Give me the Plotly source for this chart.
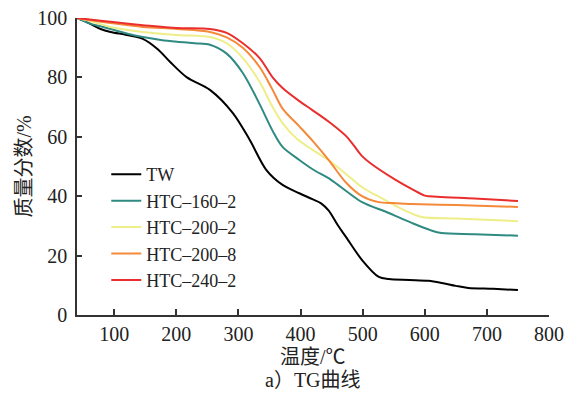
import plotly.graph_objects as go

# Temperature (°C) and mass fraction (%)
tw_x = [40, 60, 78, 94, 120, 146, 170, 190, 217, 254, 291, 318, 345, 371, 398, 419, 433, 445, 460, 473, 499, 526, 542, 575, 606, 627, 650, 670, 710, 750]
tw_y = [100, 98.2, 96.3, 95.3, 94.3, 93, 89.5, 85.2, 80, 75.8, 68, 59, 48.8, 43.8, 41, 39, 37.6, 35.2, 30.2, 26.3, 18.5, 12.8, 12.1, 11.8, 11.5, 10.8, 9.8, 9.1, 8.8, 8.4]

h160_x = [40, 60, 78, 94, 120, 146, 175, 201, 230, 254, 281, 307, 334, 355, 371, 398, 420, 449, 475, 499, 540, 579, 610, 627, 680, 750]
h160_y = [100, 98.2, 97.2, 96.3, 94.8, 93.6, 92.6, 92, 91.5, 91, 88, 81.5, 71, 62, 56.6, 52.2, 49, 45.5, 41.5, 38, 34.5, 31, 28.5, 27.6, 27.2, 26.7]

h2002_x = [40, 60, 94, 146, 201, 254, 281, 307, 334, 355, 371, 393, 420, 446, 473, 499, 520, 542, 570, 595, 650, 750]
h2002_y = [100, 99, 97, 95.3, 94.3, 93.6, 91.5, 86.5, 78.5, 70, 64.6, 59.5, 55.5, 52, 47.5, 43, 40.5, 38, 35, 33, 32.5, 31.6]

h2008_x = [40, 60, 94, 146, 201, 254, 281, 307, 334, 355, 371, 398, 419, 446, 473, 499, 526, 550, 579, 650, 750]
h2008_y = [100, 99.3, 98.3, 97, 96.3, 95.3, 93.5, 90, 83.5, 75.8, 69.5, 63.5, 58.7, 52, 44.6, 40, 38, 37.7, 37.4, 37, 36.4]

h240_x = [40, 60, 94, 146, 201, 254, 281, 307, 334, 355, 371, 398, 419, 446, 473, 486, 499, 512, 553, 580, 600, 620, 680, 750]
h240_y = [100, 99.5, 98.7, 97.6, 96.6, 96.3, 95, 91.5, 86.5, 80, 76.4, 72, 69, 65, 60.3, 57, 53.5, 51.2, 45.5, 42.3, 40.2, 39.8, 39.2, 38.4]

names = ["TW", "HTC\u2013160\u20132", "HTC\u2013200\u20132", "HTC\u2013200\u20138", "HTC\u2013240\u20132"]
colors = ["#000000", "#2f8a82", "#eeee88", "#f5893a", "#ea2e2e"]
series = [(tw_x, tw_y), (h160_x, h160_y), (h2002_x, h2002_y), (h2008_x, h2008_y), (h240_x, h240_y)]

x_ticks = [100, 200, 300, 400, 500, 600, 700, 800]
y_ticks = [0, 20, 40, 60, 80, 100]

serif = "Liberation Serif, Times New Roman, Noto Sans CJK SC, serif"

fig = go.Figure()
for (xs, ys), n, c in zip(series, names, colors):
    fig.add_trace(go.Scatter(x=xs, y=ys, mode="lines", name=n,
                             line=dict(color=c, width=2, shape="spline", smoothing=0.9)))

# page body has an 8px default margin; margins compensate so the plot lands where the reference has it
fig.update_layout(
    width=580, height=401,
    margin=dict(l=69, r=39, t=10, b=94, autoexpand=False),
    paper_bgcolor="white", plot_bgcolor="white",
    font=dict(family=serif, size=20, color="#222"),
    showlegend=True,
    legend=dict(x=0.062, y=0.535, xanchor="left", yanchor="top",
                bgcolor="rgba(0,0,0,0)", font=dict(family=serif, size=18, color="#222"),
                itemwidth=30, tracegroupgap=0),
    xaxis=dict(range=[40, 800], tickvals=x_ticks, ticks="inside", ticklen=6, tickwidth=1.5,
               tickcolor="#333", showline=True, linecolor="#333", linewidth=1.5, automargin=False,
               ticklabeloverflow="allow",
               showgrid=False, zeroline=False, tickfont=dict(family=serif, size=20, color="#222")),
    yaxis=dict(range=[0, 100], tickvals=y_ticks, ticks="inside", ticklen=5, tickwidth=1.5,
               tickcolor="#333", showline=True, linecolor="#333", linewidth=1.5, automargin=False,
               ticklabelstandoff=4, ticklabeloverflow="allow",
               showgrid=False, zeroline=False, tickfont=dict(family=serif, size=20, color="#222")),
    annotations=[
        dict(text="质量分数/%", xref="paper", yref="paper", x=-0.1123, y=0.5,
             xanchor="center", yanchor="middle",
             textangle=-90, showarrow=False, font=dict(family=serif, size=20, color="#222")),
        dict(text="温度/℃", xref="paper", yref="paper", x=0.5, y=-0.1414,
             xanchor="center", yanchor="middle", showarrow=False,
             font=dict(family=serif, size=20, color="#222")),
        dict(text="a）TG曲线", xref="paper", yref="paper", x=0.5, y=-0.219,
             xanchor="center", yanchor="middle", showarrow=False,
             font=dict(family=serif, size=20, color="#222")),
    ],
)

fig.write_html("out.html")
